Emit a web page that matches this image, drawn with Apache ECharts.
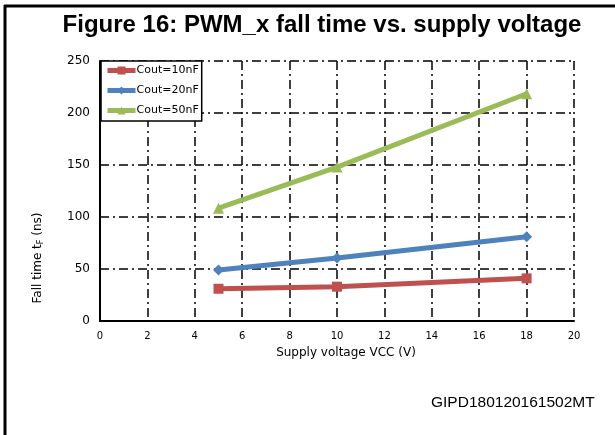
<!DOCTYPE html>
<html>
<head>
    <meta charset="utf-8">
    <title>PWM_x fall time</title>
    <script src="https://cdn.jsdelivr.net/npm/echarts@6/dist/echarts.min.js"></script>
    <style>
        html, body { margin: 0; padding: 0; background: #fff; }
    </style>
</head>
<body>
<div id="main" style="width:615px;height:435px;"></div>
<script type="text/javascript">

    // 数据
    var seriesNames = ['Cout=10nF', 'Cout=20nF', 'Cout=50nF'];
    var vcc = [5, 10, 18];
    var cout10 = [31, 33, 41];
    var cout20 = [49, 60.5, 81];
    var cout50 = [108.5, 148, 218.5];
    var colors = ['#C0504D', '#4F81BD', '#9BBB59'];
    var symbols = ['rect', 'diamond', 'triangle'];

    var dashDot = [9, 4, 2, 4];
    var tickFont = 'DejaVu Sans';

    function pairs(ys) {
        var out = [];
        for (var i = 0; i < vcc.length; i++) {
            out.push([vcc[i], ys[i]]);
        }
        return out;
    }

    var allValues = [cout10, cout20, cout50];
    var series = [];
    for (var k = 0; k < seriesNames.length; k++) {
        series.push({
            name: seriesNames[k],
            type: 'line',
            data: pairs(allValues[k]),
            symbol: symbols[k],
            symbolSize: k === 0 ? 10 : 11,
            showAllSymbol: true,
            lineStyle: {width: 5, color: colors[k]},
            itemStyle: {color: colors[k]},
            z: 3
        });
    }

    var myChart = echarts.init(document.getElementById('main'));

    var option = {
        animation: false,
        title: {
            text: 'Figure 16: PWM_x fall time vs. supply voltage',
            left: 317,
            textAlign: 'center',
            top: 8,
            textStyle: {
                fontFamily: 'Liberation Sans',
                fontWeight: 'bold',
                fontSize: 24,
                color: '#000'
            }
        },
        legend: {
            data: seriesNames,
            orient: 'vertical',
            left: 101,
            top: 61,
            itemWidth: 28,
            itemHeight: 10,
            itemGap: 9,
            padding: [4, 3, 5, 4],
            backgroundColor: '#fff',
            borderColor: '#000',
            borderWidth: 1.5,
            borderRadius: 0,
            lineStyle: {width: 5},
            textStyle: {fontFamily: tickFont, fontSize: 11, color: '#000', padding: [0, 0, 0, -4]}
        },
        grid: {
            left: 100,
            right: 41,
            top: 61,
            bottom: 114,
            containLabel: false
        },
        xAxis: {
            type: 'value',
            min: 0,
            max: 20,
            interval: 2,
            name: 'Supply voltage VCC (V)',
            nameLocation: 'middle',
            nameGap: 26,
            nameTextStyle: {fontFamily: tickFont, fontSize: 12, color: '#000', padding: [0, 0, 0, 18]},
            axisLine: {show: true, onZero: false, lineStyle: {color: '#000', width: 2}},
            axisTick: {show: false},
            axisLabel: {fontFamily: tickFont, fontSize: 10, color: '#000', margin: 10},
            splitLine: {show: true, lineStyle: {color: '#000', width: 1.5, type: dashDot}}
        },
        yAxis: {
            type: 'value',
            min: 0,
            max: 250,
            interval: 50,
            axisLine: {show: true, lineStyle: {color: '#000', width: 2}},
            axisTick: {show: false},
            axisLabel: {fontFamily: tickFont, fontSize: 12, color: '#000', margin: 10},
            splitLine: {show: true, lineStyle: {color: '#000', width: 1.5, type: dashDot}}
        },
        graphic: [
            // 外框（上、左）
            {type: 'line', shape: {x1: 4, y1: 6, x2: 615, y2: 6}, style: {stroke: '#000', lineWidth: 3}},
            {type: 'line', shape: {x1: 5, y1: 5, x2: 5, y2: 435}, style: {stroke: '#000', lineWidth: 3}},
            // y轴标题
            {
                type: 'text',
                x: 38,
                y: 258,
                rotation: Math.PI / 2,
                style: {
                    text: '{a|Fall time t}{s|F}{a| (ns)}',
                    align: 'center',
                    verticalAlign: 'middle',
                    rich: {
                        a: {fontFamily: tickFont, fontSize: 12, fill: '#000'},
                        s: {fontFamily: tickFont, fontSize: 8, fill: '#000', padding: [5, 0, 0, 0]}
                    }
                }
            },
            {
                type: 'text',
                left: 431,
                top: 395,
                style: {
                    text: 'GIPD180120161502MT',
                    fontFamily: 'Liberation Sans',
                    fontSize: 15.5,
                    fill: '#000'
                }
            }
        ],
        series: series
    };

    myChart.setOption(option);
</script>
</body>
</html>
